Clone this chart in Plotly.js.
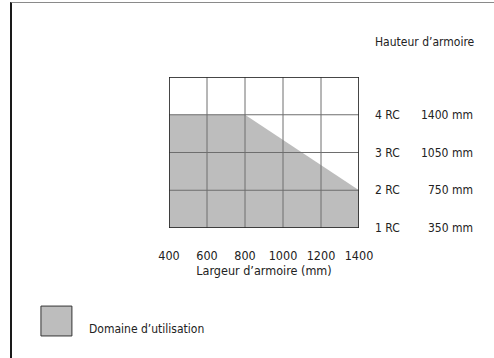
<!DOCTYPE html>
<html>
<head>
<meta charset="utf-8">
<script src="https://cdn.plot.ly/plotly-3.0.1.min.js"></script>
<style>
body{margin:0;padding:0;background:#fff;}
#frame{position:absolute;left:10px;top:2px;width:484px;height:356px;border-left:2px solid #1a1a1a;border-top:1.5px solid #8a8a8a;box-sizing:border-box;}
#chart{position:absolute;left:0;top:0;width:494px;height:358px;}
</style>
</head>
<body>
<div id="frame"></div>
<div id="chart"></div>
<script>
// Data
const widthTicks = [400, 600, 800, 1000, 1200, 1400];
const rowLevels = [1, 2, 3, 4, 5];
const rcLabels = ['1 RC', '2 RC', '3 RC', '4 RC'];
const heightLabels = ['350 mm', '750 mm', '1050 mm', '1400 mm'];
const rcValues = [1, 2, 3, 4];
// usable domain boundary (width, RC level)
const domainX = [400, 400, 800, 1400, 1400, 400];
const domainY = [1, 4, 4, 2, 1, 1];

const FONT = '"Liberation Sans Narrow", "DejaVu Sans Condensed", "Liberation Sans", sans-serif';
const txt = '#222';

const traces = [{
  x: domainX, y: domainY, type: 'scatter', mode: 'lines',
  fill: 'toself', fillcolor: '#bdbdbd', line: {width: 0, color: '#bdbdbd'},
  hoverinfo: 'skip', showlegend: false
}];

const shapes = [];
widthTicks.forEach(v => shapes.push({type:'line', xref:'x', yref:'y', x0:v, x1:v, y0:rowLevels[0], y1:rowLevels[rowLevels.length-1], line:{color:'#6e6e6e', width:1}, layer:'above'}));
rowLevels.forEach(v => shapes.push({type:'line', xref:'x', yref:'y', x0:widthTicks[0], x1:widthTicks[widthTicks.length-1], y0:v, y1:v, line:{color:'#6e6e6e', width:1}, layer:'above'}));
// outer border
shapes.push({type:'rect', xref:'x', yref:'y', x0:widthTicks[0], x1:widthTicks[widthTicks.length-1], y0:rowLevels[0], y1:rowLevels[rowLevels.length-1], line:{color:'#222', width:1.5}, layer:'above'});
// legend swatch
shapes.push({type:'rect', xref:'paper', yref:'paper', x0:-0.674, x1:-0.511, y0:-0.715, y1:-0.517, fillcolor:'#bdbdbd', line:{color:'#333', width:1}});

const annotations = [];
rcValues.forEach((v, i) => {
  annotations.push({xref:'paper', yref:'y', x:1.074, y:v, text:rcLabels[i], showarrow:false, xanchor:'left', yanchor:'middle', font:{family:FONT, size:12, color:txt}});
  annotations.push({xref:'paper', yref:'y', x:1.61, y:v, text:heightLabels[i], showarrow:false, xanchor:'right', yanchor:'middle', font:{family:FONT, size:12, color:txt}});
});
annotations.push({xref:'paper', yref:'paper', x:1.074, y:1.23, text:'Hauteur d’armoire', showarrow:false, xanchor:'left', yanchor:'middle', font:{family:FONT, size:12, color:txt}});
annotations.push({xref:'paper', yref:'paper', x:-0.432, y:-0.668, text:'Domaine d’utilisation', showarrow:false, xanchor:'left', yanchor:'middle', font:{family:FONT, size:12, color:txt}});

const layout = {
  width: 494, height: 358,
  margin: {l:169, r:135, t:77, b:130},
  paper_bgcolor: 'rgba(0,0,0,0)', plot_bgcolor: '#fff',
  showlegend: false,
  font: {family: FONT, size: 12, color: txt},
  xaxis: {
    range: [widthTicks[0], widthTicks[widthTicks.length-1]],
    tickvals: widthTicks, ticktext: widthTicks.map(String),
    showgrid: false, zeroline: false, showline: false, ticks: '',
    ticklabelstandoff: 18,
    tickfont: {family: FONT, size: 12.5, color: txt},
    title: {text: 'Largeur d’armoire (mm)', font: {family: FONT, size: 12.5, color: txt}, standoff: 3}
  },
  yaxis: {
    range: [rowLevels[0], rowLevels[rowLevels.length-1]],
    showgrid: false, zeroline: false, showline: false, showticklabels: false, ticks: ''
  },
  shapes: shapes,
  annotations: annotations
};

Plotly.newPlot('chart', traces, layout, {staticPlot: true, displayModeBar: false});
</script>
</body>
</html>
